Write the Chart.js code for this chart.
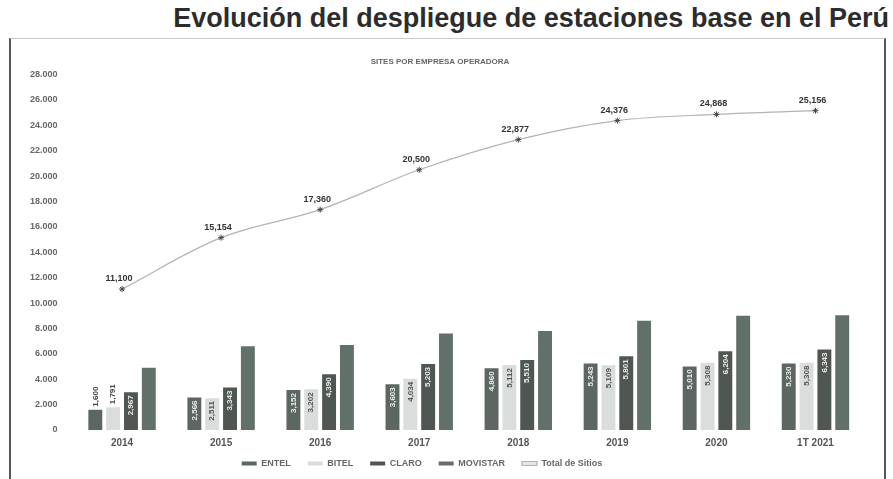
<!DOCTYPE html>
<html lang="es">
<head>
<meta charset="utf-8">
<title>Evolución del despliegue de estaciones base en el Perú</title>
<script src="https://cdn.jsdelivr.net/npm/chart.js@4.4.1/dist/chart.umd.min.js"></script>
<style>
    body { margin: 0; background: #fff; font-family: "Liberation Sans", Arial, sans-serif; }
    #title {
        position: absolute; right: 4px; top: 2px; line-height: 32px;
        font-size: 27px; font-weight: bold; color: #2c2c2c;
    }
    #box {
        position: absolute; left: 9px; top: 38px; width: 873px; height: 441px;
        border-left: 2px solid #555; border-right: 2px solid #555; border-top: 1px solid #ccc;
    }
    canvas { display: block; }
</style>
</head>
<body>
<div id="title">Evolución del despliegue de estaciones base en el Perú</div>
<div id="box"><canvas id="sitesChart" width="873" height="441"></canvas></div>
<script>
// categories and values
const years = ['2014', '2015', '2016', '2017', '2018', '2019', '2020', '1T 2021'];
const entel = [1600, 2566, 3152, 3603, 4860, 5243, 5010, 5230];
const bitel = [1791, 2511, 3202, 4034, 5112, 5109, 5308, 5308];
const claro = [2967, 3343, 4390, 5203, 5510, 5801, 6204, 6343];
const movistar = [4900, 6600, 6700, 7600, 7800, 8600, 9000, 9050];
const totalSites = [11100, 15154, 17360, 20500, 22877, 24376, 24868, 25156];
const yTicks = [0, 2000, 4000, 6000, 8000, 10000, 12000, 14000, 16000, 18000, 20000, 22000, 24000, 26000, 28000];

const fmtComma = v => v.toLocaleString('en-US');
const fmtDot = v => v.toLocaleString('en-US').replace(/,/g, '.');

/**
 * Value labels: rotated inside the bars, horizontal above the line points
 */
const valueLabels = {
    id: 'valueLabels',
    afterDatasetsDraw(chart) {
        const ctx = chart.ctx;
        ctx.save();
        chart.data.datasets.forEach((ds, i) => {
            const meta = chart.getDatasetMeta(i);
            if (!ds.showLabels) return;
            meta.data.forEach((el, j) => {
                const text = fmtComma(ds.data[j]);
                if (ds.type === 'line') {
                    ctx.font = 'bold 9px "Liberation Sans", Arial';
                    ctx.fillStyle = '#333';
                    ctx.textAlign = 'center';
                    ctx.textBaseline = 'bottom';
                    ctx.fillText(text, el.x - 3, el.y - 6);
                    return;
                }
                ctx.font = 'bold 8px "Liberation Sans", Arial';
                const w = ctx.measureText(text).width;
                const h = el.base - el.y;
                ctx.save();
                ctx.translate(el.x, el.y);
                ctx.rotate(-Math.PI / 2);
                ctx.textBaseline = 'middle';
                if (h < w + 6) {
                    ctx.textAlign = 'left';
                    ctx.fillStyle = '#444';
                    ctx.fillText(text, 3, 0);
                } else {
                    ctx.textAlign = 'right';
                    ctx.fillStyle = ds.labelColor;
                    ctx.fillText(text, -3, 0);
                }
                ctx.restore();
            });
        });
        ctx.restore();
    }
};

/**
 * Pull the legend closer to the axis labels: shorter box, drawn a bit higher/left
 */
const LEGEND_LIFT = 14;
const LEGEND_SHIFT = -18;
const tightLegend = {
    id: 'tightLegend',
    beforeInit(chart) {
        const legend = chart.legend;
        if (!legend) return;
        const fit = legend.fit.bind(legend);
        const draw = legend.draw.bind(legend);
        legend.fit = function () { fit(); this.height -= LEGEND_LIFT; };
        legend.draw = function () {
            // move only the top edge up, so the clip box still holds the items
            this.top -= LEGEND_LIFT; this.height += LEGEND_LIFT;
            this.left += LEGEND_SHIFT; this.right += LEGEND_SHIFT;
            draw();
            this.top += LEGEND_LIFT; this.height -= LEGEND_LIFT;
            this.left -= LEGEND_SHIFT; this.right -= LEGEND_SHIFT;
        };
    }
};

const barDefaults = { categoryPercentage: 0.72, barPercentage: 0.78 };

new Chart(document.getElementById('sitesChart'), {
    data: {
        labels: years,
        datasets: [
            { type: 'bar', label: 'ENTEL', data: entel, backgroundColor: '#5d6762', showLabels: true, labelColor: '#e8ece9', ...barDefaults },
            { type: 'bar', label: 'BITEL', data: bitel, backgroundColor: '#d9dddb', showLabels: true, labelColor: '#555', ...barDefaults },
            { type: 'bar', label: 'CLARO', data: claro, backgroundColor: '#4e5752', showLabels: true, labelColor: '#e8ece9', ...barDefaults },
            { type: 'bar', label: 'MOVISTAR', data: movistar, backgroundColor: '#617068', showLabels: false, ...barDefaults },
            {
                type: 'line', label: 'Total de Sitios', data: totalSites,
                borderColor: '#b0b4b2', borderWidth: 1.2, tension: 0.35,
                pointStyle: 'star', pointRadius: 3, pointBorderColor: '#444', pointBorderWidth: 1,
                showLabels: true
            }
        ]
    },
    options: {
        responsive: false,
        animation: false,
        layout: { padding: { left: 4, right: 19, top: 4, bottom: 2 } },
        scales: {
            x: {
                grid: { display: false, drawTicks: false },
                border: { display: false },
                ticks: { color: '#555', font: { size: 10, weight: 'bold' }, padding: 7 }
            },
            y: {
                min: 0, max: 28000,
                afterBuildTicks: axis => { axis.ticks = yTicks.map(v => ({ value: v })); },
                grid: { display: false, drawTicks: false },
                border: { display: false },
                ticks: { color: '#666', font: { size: 9, weight: 'bold' }, padding: 15, callback: v => fmtDot(v) }
            }
        },
        plugins: {
            title: {
                display: true, text: 'SITES POR EMPRESA OPERADORA',
                color: '#666', font: { size: 8, weight: 'bold' }, padding: { top: 14, bottom: 8 }
            },
            legend: {
                position: 'bottom',
                labels: { color: '#666', boxWidth: 15, boxHeight: 4, padding: 17, font: { size: 9, weight: 'bold' } }
            },
            tooltip: { enabled: false }
        }
    },
    plugins: [valueLabels, tightLegend]
});
</script>
</body>
</html>
